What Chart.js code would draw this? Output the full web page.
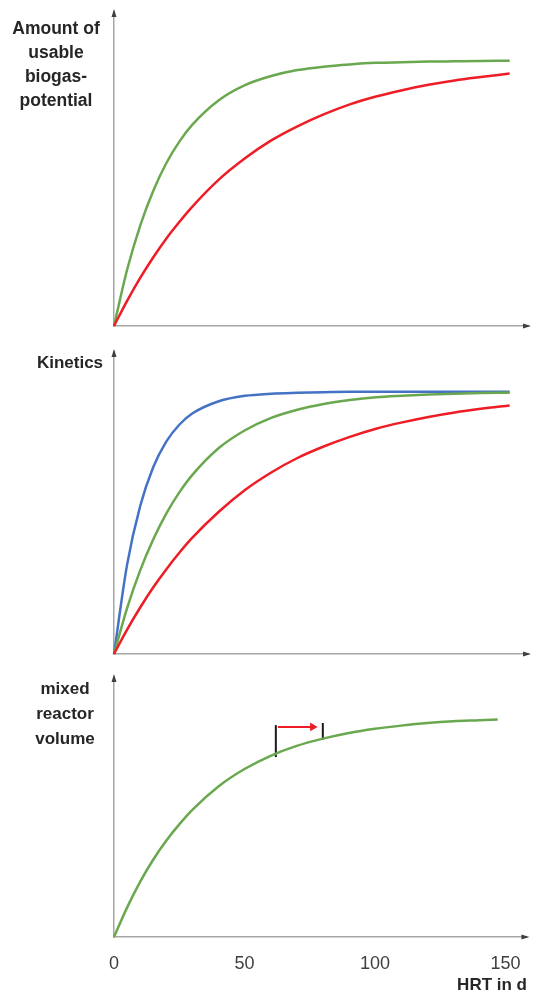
<!DOCTYPE html>
<html>
<head>
<meta charset="utf-8">
<script src="https://cdn.jsdelivr.net/npm/chart.js@4.4.0/dist/chart.umd.min.js"></script>
<style>
  html, body { margin:0; padding:0; background:#fff; }
  body { width:537px; height:997px; position:relative; overflow:hidden; font-family:"Liberation Sans", Arial, sans-serif; }
  .c { position:absolute; left:0; }
  .lbl { position:absolute; width:130px; text-align:center; font-weight:bold; font-size:17px; color:#262626; }
</style>
</head>
<body>
<canvas id="p1" class="c" width="537" height="340" style="top:0px"></canvas>
<canvas id="p2" class="c" width="537" height="320" style="top:340px"></canvas>
<canvas id="p3" class="c" width="537" height="337" style="top:660px"></canvas>

<div class="lbl" style="left:-9px; top:16px; line-height:24px; font-size:17.5px;">Amount of<br>usable<br>biogas-<br>potential</div>
<div class="lbl" style="left:5px; top:351px; line-height:24px;">Kinetics</div>
<div class="lbl" style="left:0px; top:676px; line-height:25px;">mixed<br>reactor<br>volume</div>
<div class="lbl" style="left:auto; right:10px; width:auto; top:973px; line-height:24px;">HRT in d</div>

<script>
// ---- data ----
const hrt = [0, 5, 10, 15, 20, 25, 30, 40, 50, 60, 70, 80, 90, 100, 110, 120, 130, 140, 151];
const p1Green = [0, 17.9, 32.0, 43.1, 51.9, 58.8, 64.2, 71.9, 76.7, 79.6, 81.5, 82.6, 83.3, 83.8, 84.0, 84.2, 84.3, 84.4, 84.5];
const p1Red   = [0, 8.0, 15.3, 21.9, 27.9, 33.2, 38.1, 46.6, 53.4, 59.1, 63.6, 67.4, 70.6, 73.1, 75.1, 76.8, 78.2, 79.3, 80.4];

const p2Blue  = [0, 29.6, 49.0, 61.9, 70.4, 76.0, 79.7, 83.7, 85.5, 86.2, 86.5, 86.7, 86.8, 86.8, 86.8, 86.8, 86.8, 86.8, 86.8];
const p2Green = [0, 15.2, 27.7, 38.0, 46.6, 53.6, 59.4, 68.2, 74.1, 78.2, 80.9, 82.8, 84.1, 85.0, 85.5, 85.9, 86.2, 86.4, 86.5];
const p2Red   = [0, 8.1, 15.4, 22.1, 28.1, 33.6, 38.6, 47.1, 54.3, 60.1, 64.9, 68.7, 71.9, 74.6, 76.7, 78.5, 80.0, 81.2, 82.3];

const hrt3 = [0, 5, 10, 15, 20, 25, 30, 40, 50, 60, 70, 80, 90, 100, 110, 120, 130, 140, 147];
const p3Green = [0, 11.3, 21.2, 29.7, 37.0, 43.3, 48.9, 57.9, 64.6, 69.7, 73.5, 76.3, 78.5, 80.1, 81.3, 82.3, 83.0, 83.4, 83.7];

const markA = [{x: 62, y: 81.5}, {x: 62, y: 69.2}];
const markB = [{x: 80, y: 82.3}, {x: 80, y: 75.8}];
const shiftArrow = [{x: 62.8, y: 80.8}, {x: 76.1, y: 80.8}];

const xTickValues = [0, 50, 100, 150];
const xTickLabels = ['0', '50', '100', '150'];

// ---- styling ----
const GREEN = '#6aa84f', RED = '#ee1c25', BLUE = '#4472c4';
const AXIS = '#a6a6a6';

function pts(xs, ys) { return xs.map((x, i) => ({x: x, y: ys[i]})); }

const arrowPlugin = {
  id: 'axisArrows',
  afterDraw(chart) {
    const ctx = chart.ctx, a = chart.chartArea;
    ctx.save();
    ctx.fillStyle = '#404040';
    ctx.beginPath();
    ctx.moveTo(a.left, a.top - 3);
    ctx.lineTo(a.left - 2.5, a.top + 5);
    ctx.lineTo(a.left + 2.5, a.top + 5);
    ctx.closePath(); ctx.fill();
    ctx.beginPath();
    ctx.moveTo(a.right + 3, a.bottom);
    ctx.lineTo(a.right - 5, a.bottom - 2.5);
    ctx.lineTo(a.right - 5, a.bottom + 2.5);
    ctx.closePath(); ctx.fill();
    ctx.restore();
  }
};

function lineDs(data, color, w) {
  return { data: data, borderColor: color, backgroundColor: color, borderWidth: w || 2.5,
           pointRadius: 0, cubicInterpolationMode: 'monotone', fill: false, clip: false };
}

function makeChart(id, datasets, pad, showTicks) {
  return new Chart(document.getElementById(id), {
    type: 'line',
    data: { datasets: datasets },
    plugins: [arrowPlugin],
    options: {
      responsive: false, animation: false, devicePixelRatio: 1,
      layout: { padding: pad },
      plugins: { legend: { display: false }, tooltip: { enabled: false } },
      scales: {
        x: {
          type: 'linear', min: 0, max: 158,
          grid: { display: false, drawTicks: false },
          border: { display: true, color: AXIS, width: 1.5 },
          ticks: {
            display: showTicks, padding: 16, color: '#404040', maxRotation: 0, autoSkip: false,
            font: { family: '"Liberation Sans", Arial, sans-serif', size: 18 },
            callback: (v) => { const i = xTickValues.indexOf(v); return i >= 0 ? xTickLabels[i] : ''; }
          },
          afterBuildTicks: (s) => { s.ticks = xTickValues.map(v => ({value: v})); },
          afterFit: (s) => { s.height = showTicks ? 50 : 0; }
        },
        y: {
          type: 'linear', min: 0, max: 100,
          grid: { display: false, drawTicks: false },
          border: { display: true, color: AXIS, width: 1.5 },
          ticks: { display: false },
          afterFit: (s) => { s.width = 0; }
        }
      }
    }
  });
}

makeChart('p1', [
  lineDs(pts(hrt, p1Red), RED),
  lineDs(pts(hrt, p1Green), GREEN)
], {left: 114, right: 9, top: 12, bottom: 14}, false);

makeChart('p2', [
  lineDs(pts(hrt, p2Red), RED),
  lineDs(pts(hrt, p2Green), GREEN),
  lineDs(pts(hrt, p2Blue), BLUE)
], {left: 114, right: 9, top: 12, bottom: 6}, false);

const arrowDs = lineDs(shiftArrow, RED, 2);
arrowDs.pointRadius = [0, 5];
arrowDs.pointStyle = 'triangle';
arrowDs.rotation = 90;
arrowDs.pointBorderWidth = 0;
arrowDs.cubicInterpolationMode = 'default';

makeChart('p3', [
  lineDs(pts(hrt3, p3Green), GREEN),
  lineDs(markA, '#1a1a1a', 2),
  lineDs(markB, '#1a1a1a', 2),
  arrowDs
], {left: 114, right: 9, top: 17, bottom: 10}, true);
</script>
</body>
</html>
